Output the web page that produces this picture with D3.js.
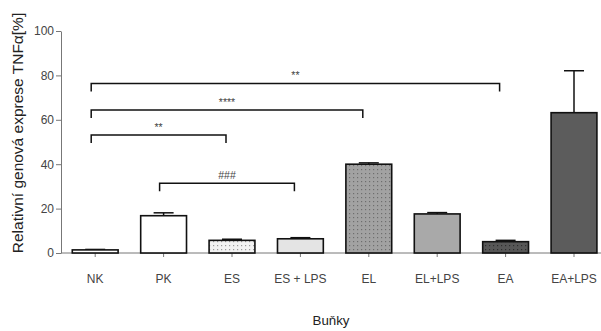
<!DOCTYPE html>
<meta charset="utf-8">
<style>
body { margin: 0; background: #fff; }
text { font-family: "Liberation Sans", Arial, sans-serif; }
.axis path, .axis line { stroke: #777; }
.axis text { fill: #444; font-size: 12px; }
.bar { stroke: #111; stroke-width: 1.6px; }
.err { stroke: #111; stroke-width: 1.5px; fill: none; }
.bracket { fill: none; stroke: #111; stroke-width: 1.5px; }
</style>
<svg width="601" height="331"></svg>
<script src="https://d3js.org/d3.v7.min.js"></script>
<script>

var categories = ["NK", "PK", "ES", "ES + LPS", "EL", "EL+LPS", "EA", "EA+LPS"];
var means = [1.4, 16.8, 5.7, 6.4, 40.0, 17.6, 5.1, 63.2];
var errors = [0.2, 1.3, 0.5, 0.5, 0.6, 0.6, 0.6, 18.9];
var fills = ["#fff", "#fff", "#f2f2f2", "#e4e4e4", "#a2a2a2", "#a9a9a9", "#575757", "#5c5c5c"];
var dotted = [false, false, true, false, true, false, true, false];
var yTicks = [0, 20, 40, 60, 80, 100];

// significance brackets: from, to, level, label
var bracketFrom = ["NK", "NK", "NK", "PK"];
var bracketTo = ["ES", "EL", "EA", "ES + LPS"];
var bracketLevel = [53.2, 64.4, 76.4, 31.4];
var bracketLabel = ["**", "****", "**", "###"];

var svg = d3.select("svg"),
    margin = {top: 31, right: 0, bottom: 78, left: 61},
    height = 331 - margin.top - margin.bottom;

var x = d3.scaleBand()
    .domain(categories)
    .range([margin.left, margin.left + 8 * 68.4])
    .paddingInner(0.33)
    .paddingOuter(0.165);

var y = d3.scaleLinear()
    .domain([0, 100])
    .range([margin.top + height, margin.top]);

var defs = svg.append("defs");
[["dotsLight", "#f2f2f2", "#9a9a9a"], ["dotsMid", "#a2a2a2", "#6e6e6e"], ["dotsDark", "#575757", "#2e2e2e"]].forEach(function(p) {
  var pat = defs.append("pattern")
      .attr("id", p[0])
      .attr("width", 4).attr("height", 4)
      .attr("patternUnits", "userSpaceOnUse");
  pat.append("rect").attr("width", 4).attr("height", 4).attr("fill", p[1]);
  pat.append("rect").attr("x", 1).attr("y", 1).attr("width", 1.2).attr("height", 1.2).attr("fill", p[2]);
});
var patIds = {2: "dotsLight", 4: "dotsMid", 6: "dotsDark"};

// y axis
svg.append("g")
    .attr("class", "axis")
    .attr("transform", "translate(" + margin.left + ",0)")
    .call(d3.axisLeft(y).tickValues(yTicks).tickSize(5).tickSizeOuter(0).tickPadding(2));

// x axis
var xAxis = svg.append("g")
    .attr("class", "axis")
    .attr("transform", "translate(0," + y(0) + ")")
    .call(d3.axisBottom(x).tickSize(4).tickSizeOuter(0).tickPadding(17));
xAxis.select(".domain").attr("d", "M" + margin.left + ",0H601");
xAxis.selectAll("text").attr("fill", "#222");

// error bars (upper)
var err = svg.append("g").selectAll("g")
    .data(categories)
  .enter().append("g");
err.append("line")
    .attr("class", "err")
    .attr("x1", function(d) { return x(d) + x.bandwidth() / 2; })
    .attr("x2", function(d) { return x(d) + x.bandwidth() / 2; })
    .attr("y1", function(d, i) { return y(means[i]); })
    .attr("y2", function(d, i) { return y(means[i] + errors[i]); });
err.append("line")
    .attr("class", "err")
    .attr("x1", function(d) { return x(d) + x.bandwidth() / 2 - 10; })
    .attr("x2", function(d) { return x(d) + x.bandwidth() / 2 + 10; })
    .attr("y1", function(d, i) { return y(means[i] + errors[i]); })
    .attr("y2", function(d, i) { return y(means[i] + errors[i]); });

// bars
svg.append("g").selectAll("rect")
    .data(categories)
  .enter().append("rect")
    .attr("class", "bar")
    .attr("x", function(d) { return x(d); })
    .attr("width", x.bandwidth())
    .attr("y", function(d, i) { return y(means[i]); })
    .attr("height", function(d, i) { return y(0) - y(means[i]); })
    .attr("fill", function(d, i) { return dotted[i] ? "url(#" + patIds[i] + ")" : fills[i]; });

// brackets
var br = svg.append("g").selectAll("g")
    .data(bracketLabel)
  .enter().append("g");
br.append("path")
    .attr("class", "bracket")
    .attr("d", function(d, i) {
      var x1 = x(bracketFrom[i]) + x.bandwidth() / 2 - 4,
          x2 = x(bracketTo[i]) + x.bandwidth() / 2 - 6,
          yy = y(bracketLevel[i]);
      return "M" + x1 + "," + (yy + 8) + "V" + yy + "H" + x2 + "V" + (yy + 8);
    });
br.append("text")
    .attr("x", function(d, i) { return (x(bracketFrom[i]) + x(bracketTo[i]) + x.bandwidth()) / 2 - 5; })
    .attr("y", function(d, i) { return y(bracketLevel[i]) - 4; })
    .attr("text-anchor", "middle")
    .style("font-size", "10.5px")
    .attr("fill", "#444")
    .text(function(d) { return d; });

// axis titles
svg.append("text")
    .attr("transform", "translate(23,133) rotate(-90)")
    .attr("text-anchor", "middle")
    .style("font-size", "15.5px")
    .attr("fill", "#222")
    .text("Relativní genová exprese TNFα[%]");

svg.append("text")
    .attr("x", 331)
    .attr("y", 325)
    .attr("text-anchor", "middle")
    .style("font-size", "13.3px")
    .attr("fill", "#222")
    .text("Buňky");

</script>
